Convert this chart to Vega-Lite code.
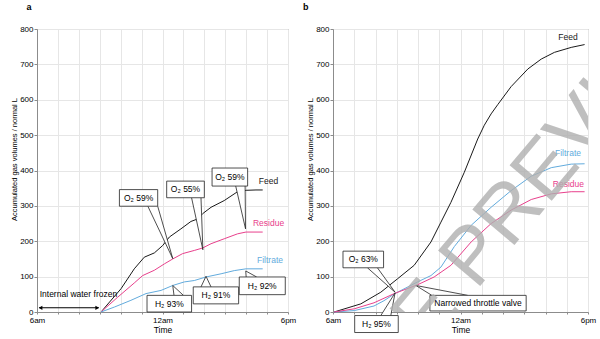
{
  "$schema": "https://vega.github.io/schema/vega-lite/v6.json",
  "padding": {"left": 10, "top": 2, "right": 0, "bottom": 0},
  "config": {
    "font": "Liberation Sans",
    "view": {"stroke": "#8c8c8c", "strokeWidth": 1},
    "axis": {"labelFont": "Liberation Sans", "titleFont": "Liberation Sans", "labelFontSize": 8, "titleFontSize": 7.5, "titleFontWeight": "normal", "labelColor": "#000", "titleColor": "#000", "domainColor": "#8c8c8c", "tickColor": "#8c8c8c", "gridColor": "#e6e6e6", "gridWidth": 1},
    "title": {"font": "Liberation Sans", "fontSize": 9, "fontWeight": "bold", "color": "#000"}
  },
  "datasets": {
    "a_lines": [
      {"series": "Feed", "h": 3.06, "v": 0}, {"series": "Feed", "h": 4.02, "v": 66}, {"series": "Feed", "h": 4.65, "v": 122}, {"series": "Feed", "h": 5.13, "v": 155}, {"series": "Feed", "h": 5.61, "v": 167}, {"series": "Feed", "h": 6.01, "v": 188}, {"series": "Feed", "h": 6.33, "v": 212}, {"series": "Feed", "h": 6.88, "v": 235}, {"series": "Feed", "h": 7.36, "v": 256}, {"series": "Feed", "h": 7.68, "v": 263}, {"series": "Feed", "h": 7.92, "v": 278}, {"series": "Feed", "h": 8.32, "v": 296}, {"series": "Feed", "h": 8.95, "v": 315}, {"series": "Feed", "h": 9.56, "v": 339}, {"series": "Feed", "h": 10.0, "v": 344}, {"series": "Feed", "h": 10.47, "v": 345}, {"series": "Feed", "h": 10.79, "v": 345},
      {"series": "Residue", "h": 3.06, "v": 0}, {"series": "Residue", "h": 3.86, "v": 42}, {"series": "Residue", "h": 4.65, "v": 82}, {"series": "Residue", "h": 5.05, "v": 103}, {"series": "Residue", "h": 5.61, "v": 118}, {"series": "Residue", "h": 6.09, "v": 136}, {"series": "Residue", "h": 6.49, "v": 150}, {"series": "Residue", "h": 6.96, "v": 165}, {"series": "Residue", "h": 7.52, "v": 174}, {"series": "Residue", "h": 7.92, "v": 181}, {"series": "Residue", "h": 8.32, "v": 193}, {"series": "Residue", "h": 8.95, "v": 207}, {"series": "Residue", "h": 9.59, "v": 221}, {"series": "Residue", "h": 9.99, "v": 226}, {"series": "Residue", "h": 10.79, "v": 226},
      {"series": "Filtrate", "h": 3.06, "v": 0}, {"series": "Filtrate", "h": 3.7, "v": 14}, {"series": "Filtrate", "h": 4.49, "v": 33}, {"series": "Filtrate", "h": 5.21, "v": 52}, {"series": "Filtrate", "h": 5.93, "v": 61}, {"series": "Filtrate", "h": 6.49, "v": 75}, {"series": "Filtrate", "h": 7.04, "v": 85}, {"series": "Filtrate", "h": 7.52, "v": 89}, {"series": "Filtrate", "h": 8.08, "v": 99}, {"series": "Filtrate", "h": 8.8, "v": 108}, {"series": "Filtrate", "h": 9.43, "v": 117}, {"series": "Filtrate", "h": 9.99, "v": 122}, {"series": "Filtrate", "h": 10.79, "v": 122}
    ],
    "a_labels": [
      {"series": "Feed", "h": 11.07, "v": 370}, {"series": "Residue", "h": 11.07, "v": 252}, {"series": "Filtrate", "h": 11.14, "v": 148}
    ],
    "a_ptr": [
      {"id": 1, "o": 1, "h": 5.3, "v": 299}, {"id": 1, "o": 2, "h": 6.49, "v": 151}, {"id": 1, "o": 3, "h": 5.77, "v": 299},
      {"id": 2, "o": 1, "h": 7.39, "v": 323}, {"id": 2, "o": 2, "h": 7.93, "v": 176}, {"id": 2, "o": 3, "h": 7.84, "v": 323},
      {"id": 3, "o": 1, "h": 9.5, "v": 356}, {"id": 3, "o": 2, "h": 9.97, "v": 235}, {"id": 3, "o": 3, "h": 9.95, "v": 356},
      {"id": 4, "o": 1, "h": 6.55, "v": 47}, {"id": 4, "o": 2, "h": 6.49, "v": 75}, {"id": 4, "o": 3, "h": 7.0, "v": 47},
      {"id": 5, "o": 1, "h": 7.84, "v": 71}, {"id": 5, "o": 2, "h": 8.08, "v": 101}, {"id": 5, "o": 3, "h": 8.32, "v": 71},
      {"id": 6, "o": 1, "h": 10.0, "v": 99}, {"id": 6, "o": 2, "h": 9.98, "v": 116}, {"id": 6, "o": 3, "h": 10.5, "v": 99}
    ],
    "a_box": [
      {"h": 3.94, "h2": 5.77, "v": 299, "v2": 346},
      {"h": 6.2, "h2": 8.0, "v": 323, "v2": 370},
      {"h": 8.37, "h2": 10.07, "v": 356, "v2": 407},
      {"h": 5.26, "h2": 7.39, "v": 0, "v2": 47},
      {"h": 7.47, "h2": 9.64, "v": 23, "v2": 71},
      {"h": 9.67, "h2": 11.87, "v": 49, "v2": 99}
    ],
    "a_boxtext": [
      {"label": "O₂ 59%", "h": 4.855, "v": 322.5},
      {"label": "O₂ 55%", "h": 7.1, "v": 346.5},
      {"label": "O₂ 59%", "h": 9.22, "v": 381.5},
      {"label": "H₂ 93%", "h": 6.325, "v": 23.5},
      {"label": "H₂ 91%", "h": 8.555, "v": 47},
      {"label": "H₂ 92%", "h": 10.77, "v": 74},
      {"label": "Internal water frozen", "h": 1.98, "v": 52}
    ],
    "a_arrow": [{"h": 0.1, "h2": 2.95, "v": 12}],
    "a_heads": [{"end": "L", "h": 0.17, "v": 12}, {"end": "R", "h": 2.88, "v": 12}],
    "b_lines": [
      {"series": "Feed", "h": 0.05, "v": 0}, {"series": "Feed", "h": 1.31, "v": 23}, {"series": "Feed", "h": 2.25, "v": 56}, {"series": "Feed", "h": 3.04, "v": 94}, {"series": "Feed", "h": 3.82, "v": 132}, {"series": "Feed", "h": 4.61, "v": 198}, {"series": "Feed", "h": 5.08, "v": 254}, {"series": "Feed", "h": 5.55, "v": 310}, {"series": "Feed", "h": 6.18, "v": 395}, {"series": "Feed", "h": 6.81, "v": 489}, {"series": "Feed", "h": 7.12, "v": 528}, {"series": "Feed", "h": 7.44, "v": 560}, {"series": "Feed", "h": 7.75, "v": 586}, {"series": "Feed", "h": 8.38, "v": 637}, {"series": "Feed", "h": 9.17, "v": 687}, {"series": "Feed", "h": 9.8, "v": 715}, {"series": "Feed", "h": 10.42, "v": 734}, {"series": "Feed", "h": 11.21, "v": 748}, {"series": "Feed", "h": 11.84, "v": 756},
      {"series": "Filtrate", "h": 0.05, "v": 0}, {"series": "Filtrate", "h": 1.0, "v": 4}, {"series": "Filtrate", "h": 1.93, "v": 17}, {"series": "Filtrate", "h": 2.4, "v": 32}, {"series": "Filtrate", "h": 2.88, "v": 51}, {"series": "Filtrate", "h": 3.98, "v": 85}, {"series": "Filtrate", "h": 4.61, "v": 103}, {"series": "Filtrate", "h": 5.08, "v": 127}, {"series": "Filtrate", "h": 5.71, "v": 185}, {"series": "Filtrate", "h": 6.5, "v": 245}, {"series": "Filtrate", "h": 7.44, "v": 296}, {"series": "Filtrate", "h": 8.38, "v": 343}, {"series": "Filtrate", "h": 9.33, "v": 384}, {"series": "Filtrate", "h": 10.27, "v": 408}, {"series": "Filtrate", "h": 11.21, "v": 418}, {"series": "Filtrate", "h": 11.84, "v": 419},
      {"series": "Residue", "h": 0.05, "v": 0}, {"series": "Residue", "h": 1.0, "v": 9}, {"series": "Residue", "h": 1.93, "v": 26}, {"series": "Residue", "h": 2.88, "v": 52}, {"series": "Residue", "h": 3.98, "v": 77}, {"series": "Residue", "h": 4.76, "v": 99}, {"series": "Residue", "h": 5.55, "v": 132}, {"series": "Residue", "h": 6.5, "v": 198}, {"series": "Residue", "h": 7.44, "v": 250}, {"series": "Residue", "h": 8.38, "v": 288}, {"series": "Residue", "h": 9.33, "v": 318}, {"series": "Residue", "h": 10.27, "v": 334}, {"series": "Residue", "h": 11.21, "v": 340}, {"series": "Residue", "h": 11.84, "v": 340}
    ],
    "b_labels": [
      {"series": "Feed", "h": 11.06, "v": 776}, {"series": "Filtrate", "h": 11.06, "v": 450}, {"series": "Residue", "h": 11.08, "v": 362}
    ],
    "b_ptr": [
      {"id": 1, "o": 1, "h": 1.62, "v": 125}, {"id": 1, "o": 2, "h": 2.92, "v": 56}, {"id": 1, "o": 3, "h": 2.09, "v": 125},
      {"id": 2, "o": 1, "h": 2.25, "v": -10}, {"id": 2, "o": 2, "h": 2.92, "v": 54}, {"id": 2, "o": 3, "h": 2.72, "v": -10},
      {"id": 3, "o": 1, "h": 4.65, "v": 47}, {"id": 3, "o": 2, "h": 3.9, "v": 75}, {"id": 3, "o": 3, "h": 6.34, "v": 47}
    ],
    "b_box": [
      {"h": 0.47, "h2": 2.38, "v": 125, "v2": 172},
      {"h": 1.02, "h2": 3.07, "v": -58, "v2": -10},
      {"h": 4.56, "h2": 9.09, "v": 3, "v2": 47}
    ],
    "b_boxtext": [
      {"label": "O₂ 63%", "h": 1.425, "v": 148.5},
      {"label": "H₂ 95%", "h": 2.045, "v": -34},
      {"label": "Narrowed throttle valve", "h": 6.825, "v": 25}
    ],
    "b_mark": [{"label": "SAMPLE PREVIEW", "h": 6.2, "v": 127}]
  },
  "hconcat": [
    {
      "width": 251,
      "height": 283,
      "title": {"text": "a", "anchor": "start", "frame": "group", "dx": -10.5, "offset": 13},
      "encoding": {
        "x": {"field": "h", "type": "quantitative", "scale": {"domain": [0, 12], "nice": false, "zero": false}, "axis": {"title": "Time", "values": [0, 1, 2, 3, 4, 5, 6, 7, 8, 9, 10, 11, 12], "labelExpr": "datum.value==0?'6am':datum.value==6?'12am':datum.value==12?'6pm':''", "labelFlush": false, "tickSize": 2, "labelPadding": 2.5, "titlePadding": 1, "titleFontSize": 8.5, "grid": true}},
        "y": {"field": "v", "type": "quantitative", "scale": {"domain": [0, 800], "nice": false}, "axis": {"title": "Accumulated gas volumes / normal L", "values": [0, 100, 200, 300, 400, 500, 600, 700, 800], "tickSize": 3, "labelPadding": 1, "titlePadding": 1, "titleY": 130, "grid": true}}
      },
      "layer": [
        {
          "data": {"name": "a_lines"},
          "mark": {"type": "line", "strokeWidth": 1},
          "encoding": {
            "color": {"field": "series", "type": "nominal", "scale": {"domain": ["Feed", "Residue", "Filtrate"], "range": ["#1a1a1a", "#e8408c", "#62abdd"]}, "legend": null}
          }
        },
        {
          "data": {"name": "a_labels"},
          "mark": {"type": "text", "fontSize": 8.5},
          "encoding": {
            "text": {"field": "series"},
            "color": {"field": "series", "type": "nominal", "legend": null}
          }
        },
        {
          "data": {"name": "a_ptr"},
          "mark": {"type": "line", "fill": "white", "stroke": "#222", "strokeWidth": 0.8},
          "encoding": {
            "detail": {"field": "id"},
            "order": {"field": "o"}
          }
        },
        {
          "data": {"name": "a_box"},
          "mark": {"type": "rect", "fill": "white", "stroke": "#222", "strokeWidth": 0.8},
          "encoding": {
            "x2": {"field": "h2"},
            "y2": {"field": "v2"}
          }
        },
        {
          "data": {"name": "a_boxtext"},
          "mark": {"type": "text", "fontSize": 8.5, "color": "#000"},
          "encoding": {
            "text": {"field": "label"}
          }
        },
        {
          "data": {"name": "a_arrow"},
          "mark": {"type": "rule", "color": "#000", "strokeWidth": 1},
          "encoding": {
            "x2": {"field": "h2"}
          }
        },
        {
          "data": {"name": "a_heads"},
          "mark": {"type": "point", "filled": true, "color": "#000", "size": 18, "opacity": 1},
          "encoding": {
            "shape": {"field": "end", "type": "nominal", "scale": {"domain": ["L", "R"], "range": ["triangle-left", "triangle-right"]}, "legend": null}
          }
        }
      ]
    },
    {
      "width": 255,
      "height": 283,
      "title": {"text": "b", "anchor": "start", "frame": "group", "dx": -30, "offset": 13},
      "encoding": {
        "x": {"field": "h", "type": "quantitative", "scale": {"domain": [0, 12], "nice": false, "zero": false}, "axis": {"title": "Time", "values": [0, 1, 2, 3, 4, 5, 6, 7, 8, 9, 10, 11, 12], "labelExpr": "datum.value==0?'6am':datum.value==6?'12am':datum.value==12?'6pm':''", "labelFlush": false, "tickSize": 2, "labelPadding": 2.5, "titlePadding": 1, "titleFontSize": 8.5, "grid": true}},
        "y": {"field": "v", "type": "quantitative", "scale": {"domain": [0, 800], "nice": false}, "axis": {"title": "Accumulated gas volumes / normal L", "values": [0, 100, 200, 300, 400, 500, 600, 700, 800], "tickSize": 3, "labelPadding": 1, "titlePadding": 1, "titleY": 130, "grid": true}}
      },
      "layer": [
        {
          "data": {"name": "b_lines"},
          "mark": {"type": "line", "strokeWidth": 1},
          "encoding": {
            "color": {"field": "series", "type": "nominal", "scale": {"domain": ["Feed", "Residue", "Filtrate"], "range": ["#1a1a1a", "#e8408c", "#62abdd"]}, "legend": null}
          }
        },
        {
          "data": {"name": "b_labels"},
          "mark": {"type": "text", "fontSize": 8.5},
          "encoding": {
            "text": {"field": "series"},
            "color": {"field": "series", "type": "nominal", "legend": null}
          }
        },
        {
          "data": {"name": "b_ptr"},
          "mark": {"type": "line", "fill": "white", "stroke": "#222", "strokeWidth": 0.8},
          "encoding": {
            "detail": {"field": "id"},
            "order": {"field": "o"}
          }
        },
        {
          "data": {"name": "b_box"},
          "mark": {"type": "rect", "fill": "white", "stroke": "#222", "strokeWidth": 0.8},
          "encoding": {
            "x2": {"field": "h2"},
            "y2": {"field": "v2"}
          }
        },
        {
          "data": {"name": "b_boxtext"},
          "mark": {"type": "text", "fontSize": 8.5, "color": "#000"},
          "encoding": {
            "text": {"field": "label"}
          }
        },
        {
          "data": {"name": "b_mark"},
          "mark": {"type": "text", "fontSize": 80, "angle": -50, "color": "#b0b0b0", "opacity": 0.8, "clip": true},
          "encoding": {
            "text": {"field": "label"}
          }
        }
      ]
    }
  ],
  "bounds": "flush",
  "spacing": 45
}
